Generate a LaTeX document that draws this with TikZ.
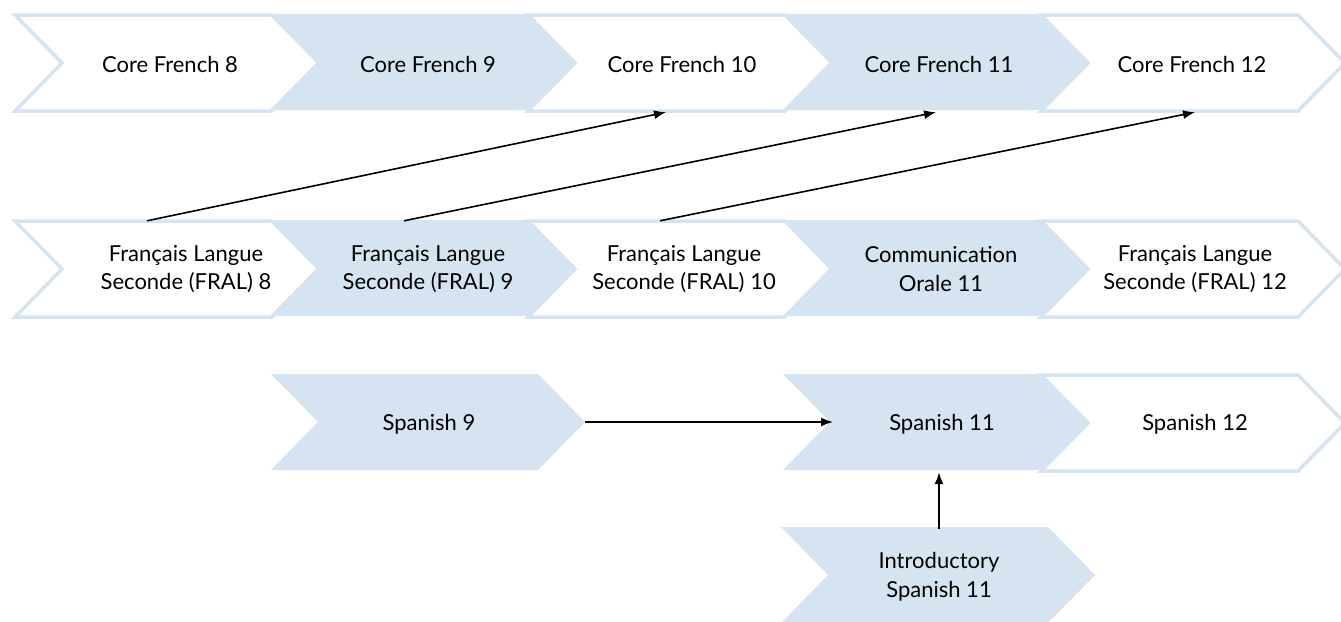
\documentclass[tikz,border=0pt]{standalone}
\usepackage{fontspec}
\setmainfont{Lato}
\usetikzlibrary{arrows.meta}
\definecolor{chevblue}{RGB}{214,227,240}
% one chevron: {body length}{left}{top}
\newcommand{\chevron}[3]{(#2,#3) -- ++(#1,0) -- ++(47,48) -- ++(-47,48) -- ++(-#1,0) -- ++(47,-48) -- cycle}

\begin{document}
\begin{tikzpicture}[x=1pt, y=-1pt,
  full/.style = {fill=chevblue},
  empty/.style = {fill=white, draw=chevblue, line width=3.5pt},
  course/.style = {align=center, minimum width=200pt, minimum height=96pt, inner sep=0pt, font=\fontsize{22}{28.5}\selectfont},
  link/.style = {-{Latex[length=12pt,width=9pt]}, line width=1.6pt}]
\useasboundingbox (0,0) rectangle (1341,621);

% chevrons
\path[empty] \chevron{257}{15}{15};
\path[empty] \chevron{257}{528}{15};
\path[empty] \chevron{257}{1041}{15};
\path[empty] \chevron{257}{15}{221};
\path[empty] \chevron{257}{528}{221};
\path[empty] \chevron{257}{1041}{221};
\path[empty] \chevron{257}{1041}{375};
\path[full] \chevron{257}{270}{14};
\path[full] \chevron{257}{783}{14};
\path[full] \chevron{257}{270}{220};
\path[full] \chevron{257}{783}{220};
\path[full] \chevron{267}{271}{374};
\path[full] \chevron{257}{783}{374};
\path[full] \chevron{267}{781}{527};

% French
\node[course] (cf8) at (170,64) {Core French 8};
\node[course] (cf9) at (428,64) {Core French 9};
\node[course] (cf10) at (682,64) {Core French 10};
\node[course] (cf11) at (939,64) {Core French 11};
\node[course] (cf12) at (1192,64) {Core French 12};
\node[course] (fral8) at (186,269) {Français Langue\\Seconde (FRAL) 8};
\node[course] (fral9) at (428,269) {Français Langue\\Seconde (FRAL) 9};
\node[course] (fral10) at (684,269) {Français Langue\\Seconde (FRAL) 10};
\node[course] (co11) at (941,269) {Communication\\Orale 11};
\node[course] (fral12) at (1195,269) {Français Langue\\Seconde (FRAL) 12};

% Spanish
\node[course] (sp9) at (429,424) {Spanish 9};
\node[course] (sp11) at (942,424) {Spanish 11};
\node[course] (sp12) at (1195,424) {Spanish 12};
\node[course] (intro) at (939,577) {Introductory\\Spanish 11};
\coordinate (sp9tip) at (585,422);
\coordinate (sp11notch) at (833,422);

\draw[link] ([xshift=-39pt]fral8.north) -- ([xshift=-16pt]cf10.south);
\draw[link] ([xshift=-24pt]fral9.north) -- ([xshift=-3pt]cf11.south);
\draw[link] ([xshift=-24pt]fral10.north) -- ([xshift=3pt]cf12.south);
\draw[link] (sp9tip) -- (sp11notch);
\draw[link] (intro.north) -- (intro.north |- sp11.south);
\end{tikzpicture}
\end{document}
